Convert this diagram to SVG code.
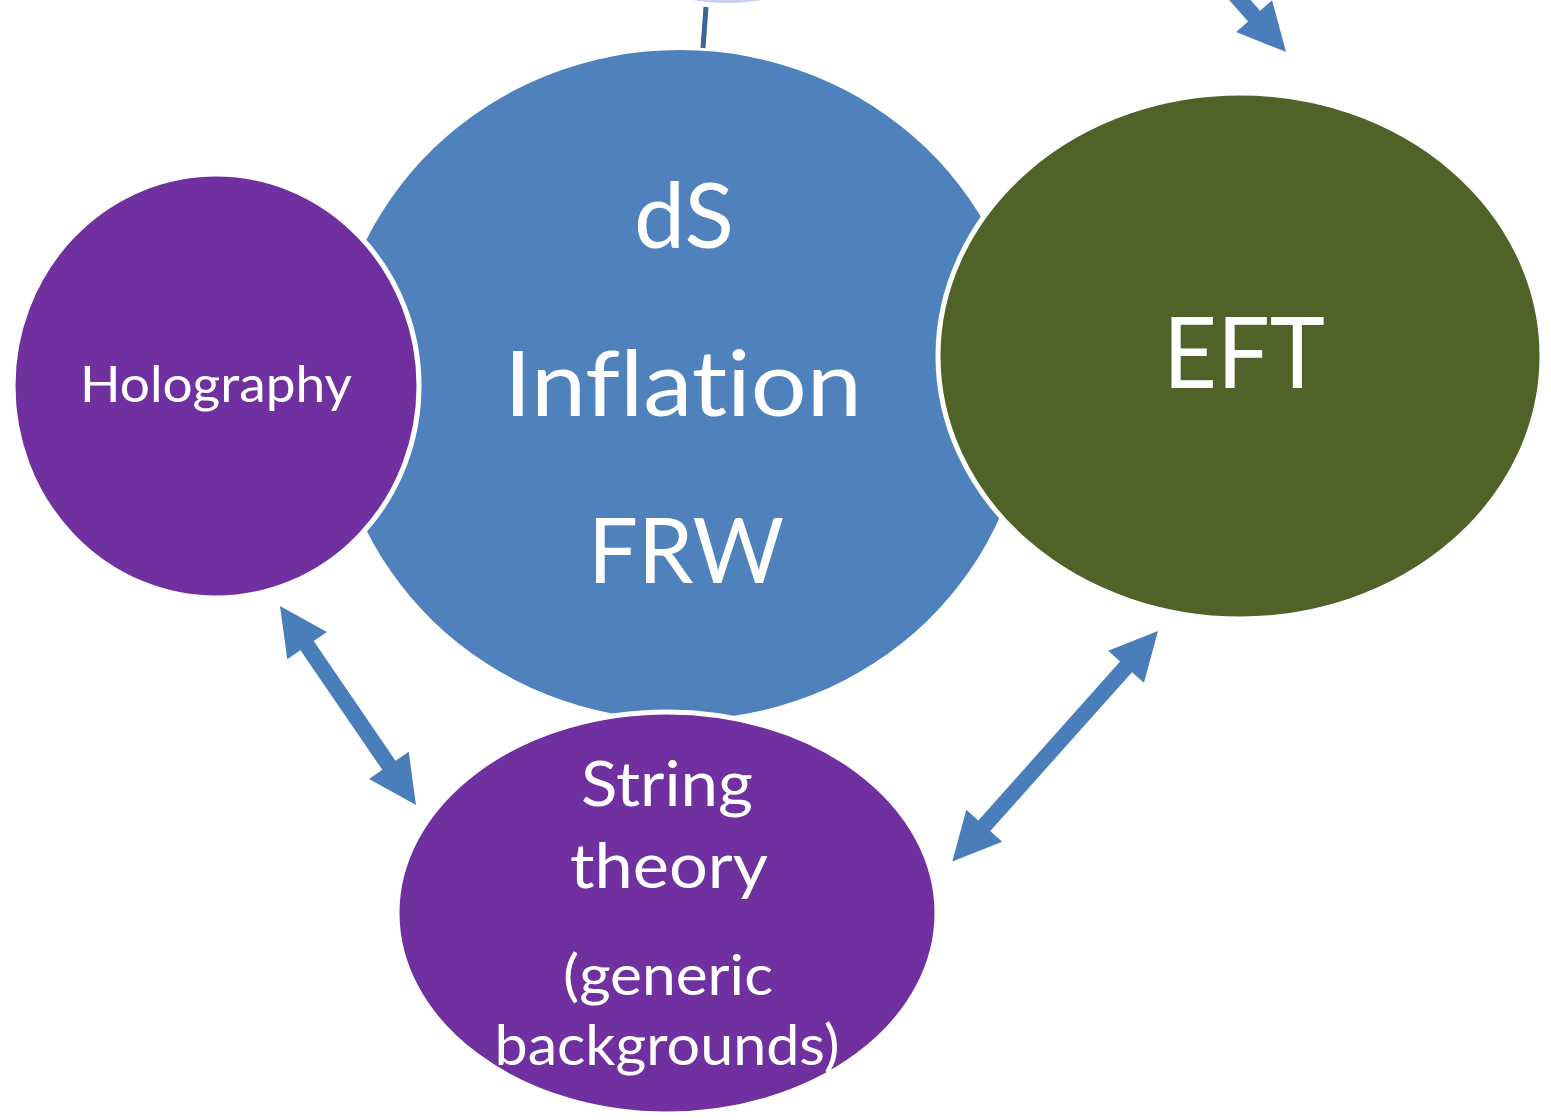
<svg xmlns="http://www.w3.org/2000/svg" width="1551" height="1120" viewBox="0 0 1551 1120">
<defs>
<style>
.lbl{font-family:Lato,"Open Sans","Liberation Sans",sans-serif;fill:#ffffff;text-anchor:middle;font-variant-ligatures:none;font-feature-settings:"liga" 0,"dlig" 0}
.arr{fill:#4A7EBB}
.node{stroke:#ffffff;stroke-width:5}
</style>
<linearGradient id="topg" x1="0" y1="0" x2="0" y2="1">
<stop offset="0" stop-color="#e8e8fa"/>
<stop offset="1" stop-color="#c9cdf2"/>
</linearGradient>
</defs>
<rect width="1551" height="1120" fill="#ffffff"/>
<g id="top-node">
<ellipse cx="727" cy="-60" rx="112" ry="63" fill="url(#topg)"/>
</g>
<g id="dS-node">
<ellipse cx="680" cy="385" rx="348" ry="335" fill="#4F81BD"/>
<text class="lbl" x="684" y="248" font-size="92" textLength="100" lengthAdjust="spacingAndGlyphs">dS</text>
<text class="lbl" x="683" y="416" font-size="92" textLength="358" lengthAdjust="spacingAndGlyphs">Inflation</text>
<text class="lbl" x="686" y="583" font-size="92" textLength="196" lengthAdjust="spacingAndGlyphs">FRW</text>
</g>
<g id="holography-node">
<ellipse class="node" cx="216" cy="386" rx="203" ry="212" fill="#7030A0"/>
<text class="lbl" x="216" y="402" font-size="50" textLength="272" lengthAdjust="spacingAndGlyphs">Holography</text>
</g>
<g id="eft-node">
<ellipse class="node" cx="1240" cy="356" rx="302" ry="263" fill="#4F6228"/>
<text class="lbl" x="1244" y="388" font-size="98" textLength="162" lengthAdjust="spacingAndGlyphs">EFT</text>
</g>
<g id="string-node">
<ellipse class="node" cx="667" cy="913" rx="270" ry="201" fill="#7030A0"/>
<text class="lbl" x="667" y="806" font-size="61" textLength="172" lengthAdjust="spacingAndGlyphs">String</text>
<text class="lbl" x="669" y="888" font-size="61" textLength="198" lengthAdjust="spacingAndGlyphs">theory</text>
<text class="lbl" x="668" y="995" font-size="57" textLength="210" lengthAdjust="spacingAndGlyphs">(generic</text>
<text class="lbl" x="667" y="1065" font-size="57" textLength="345" lengthAdjust="spacingAndGlyphs">backgrounds)</text>
</g>
<g id="connectors">
<line x1="706" y1="7" x2="703" y2="48" stroke="#3B6596" stroke-width="5"/>
<g transform="translate(1286,52) rotate(228.4)">
<polygon class="arr" points="0,0 48,-24 48,-8 120,-8 120,8 48,8 48,24"/>
</g>
<g transform="translate(280,606) rotate(55.65)">
<polygon class="arr" points="0,0 48,-24 48,-8 193,-8 193,-24 241,0 193,24 193,8 48,8 48,24"/>
</g>
<g transform="translate(1158,631) rotate(131.73)">
<polygon class="arr" points="0,0 48,-24 48,-8 261,-8 261,-24 309,0 261,24 261,8 48,8 48,24"/>
</g>
</g>
</svg>
